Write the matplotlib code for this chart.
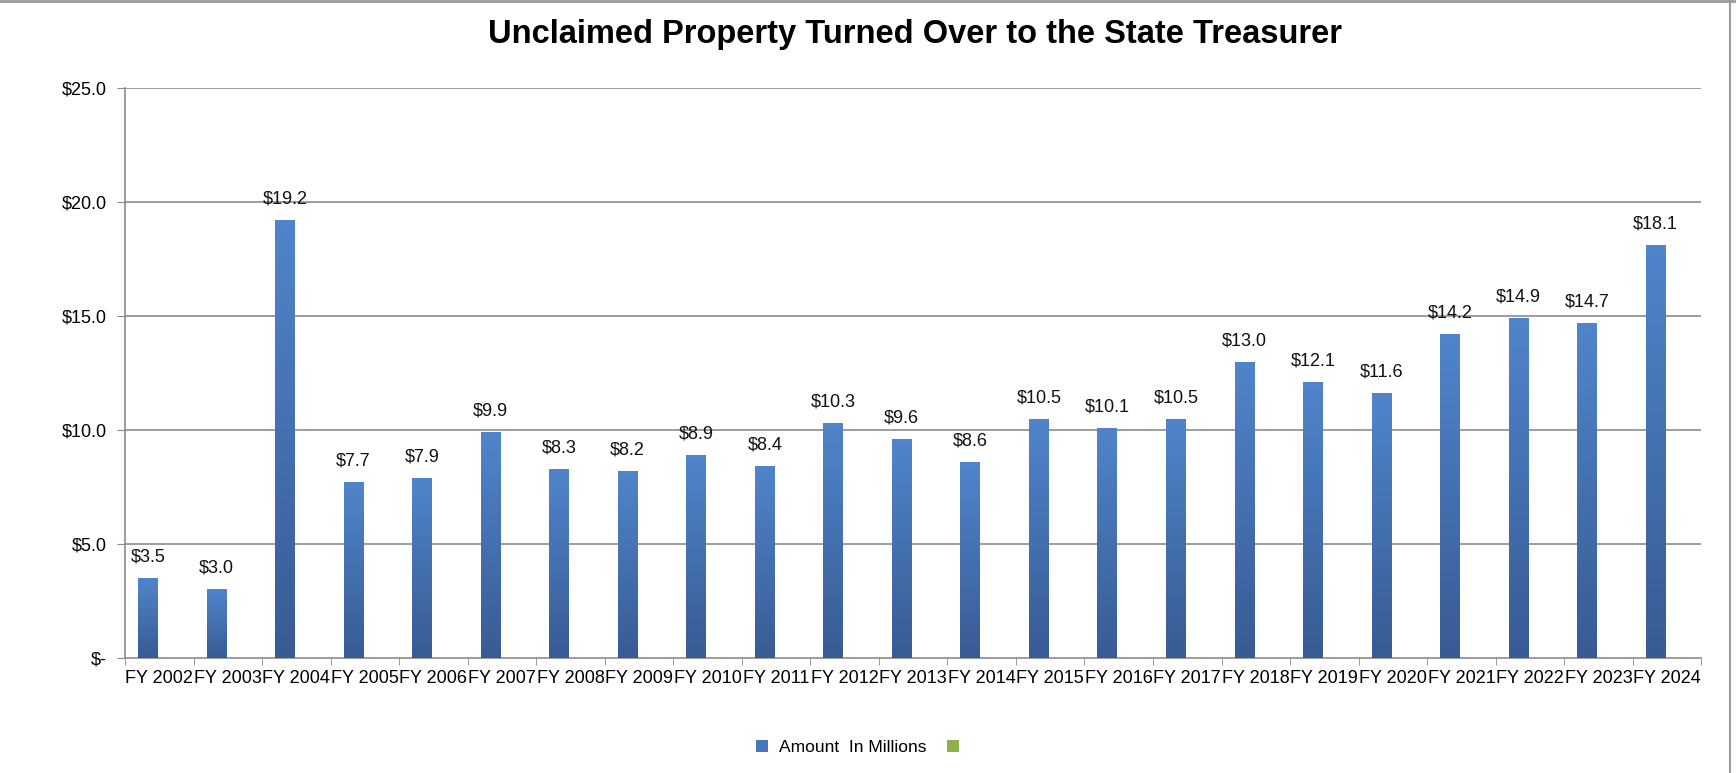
import matplotlib
matplotlib.use("Agg")
import matplotlib.pyplot as plt
import matplotlib.patches as patches
import numpy as np

years = ["FY 2002", "FY 2003", "FY 2004", "FY 2005", "FY 2006", "FY 2007", "FY 2008",
         "FY 2009", "FY 2010", "FY 2011", "FY 2012", "FY 2013", "FY 2014", "FY 2015",
         "FY 2016", "FY 2017", "FY 2018", "FY 2019", "FY 2020", "FY 2021", "FY 2022",
         "FY 2023", "FY 2024"]
amounts = [3.5, 3.0, 19.2, 7.7, 7.9, 9.9, 8.3, 8.2, 8.9, 8.4, 10.3, 9.6, 8.6, 10.5,
           10.1, 10.5, 13.0, 12.1, 11.6, 14.2, 14.9, 14.7, 18.1]
y_ticks = [0, 5, 10, 15, 20, 25]
y_labels = ["$-", "$5.0", "$10.0", "$15.0", "$20.0", "$25.0"]

plt.rcParams['font.family'] = ['Liberation Sans', 'DejaVu Sans']

fig = plt.figure(figsize=(17.36, 7.73), dpi=100)
ax = fig.add_axes([0.072, 0.149, 0.908, 0.737])

x = np.arange(len(years))
bar_w = 0.29
offset = -0.165
bars = ax.bar(x + offset, amounts, width=bar_w, color="none", edgecolor="none", zorder=3)

# vertical gradient inside each bar
grad = np.linspace(0, 1, 256).reshape(-1, 1)
cmap = matplotlib.colors.LinearSegmentedColormap.from_list("bar", ["#385b94", "#5085cb"])
for b in bars:
    x0, w, h = b.get_x(), b.get_width(), b.get_height()
    im = ax.imshow(grad, extent=(x0, x0 + w, 0, h), origin="lower", cmap=cmap,
                   aspect="auto", zorder=3)
    im.set_clip_path(b)

for xi, v in zip(x, amounts):
    ax.text(xi + offset, v + 0.55, f"${v:.1f}", ha="center", va="bottom",
            fontsize=13, color="#111111", zorder=4)

ax.set_xlim(-0.5, len(years) - 0.5)
ax.set_ylim(0, 25)
ax.set_yticks(y_ticks)
ax.set_yticklabels(y_labels, fontsize=13)
ax.set_xticks(x)
ax.set_xticklabels(years, fontsize=13)
ax.set_xticks(np.arange(len(years) + 1) - 0.5, minor=True)
ax.tick_params(axis="x", which="major", length=0, pad=9)
ax.tick_params(axis="x", which="minor", length=5, color="#888888", direction="out")
ax.tick_params(axis="y", length=6, color="#888888", pad=7)

for t in y_ticks[1:]:
    ax.axhline(t, color="#8c8c8c", linewidth=1.2, zorder=1)

for side in ["top", "right"]:
    ax.spines[side].set_visible(False)
for side in ["left", "bottom"]:
    ax.spines[side].set_color("#8c8c8c")
    ax.spines[side].set_linewidth(1.2)

fig.text(0.527, 0.955, "Unclaimed Property Turned Over to the State Treasurer",
         ha="center", va="center", fontsize=23.5, fontweight="bold")

handles = [patches.Patch(facecolor="#4a76ba", edgecolor="none"),
           patches.Patch(facecolor="#8db04d", edgecolor="none")]
fig.legend(handles, ["Amount  In Millions", ""], loc="center", ncol=2,
           bbox_to_anchor=(0.497, 0.033), frameon=False, fontsize=12.5,
           handlelength=0.7, handleheight=0.7, handletextpad=0.6, columnspacing=1.2)

# outer frame on top and right
fig.add_artist(plt.Line2D([0, 1], [0.999, 0.999], transform=fig.transFigure,
                          color="#9a9a9a", linewidth=2))
fig.add_artist(plt.Line2D([0.9968, 0.9968], [0, 1], transform=fig.transFigure,
                          color="#9a9a9a", linewidth=1.5))

fig.savefig("out.png", dpi=100)
